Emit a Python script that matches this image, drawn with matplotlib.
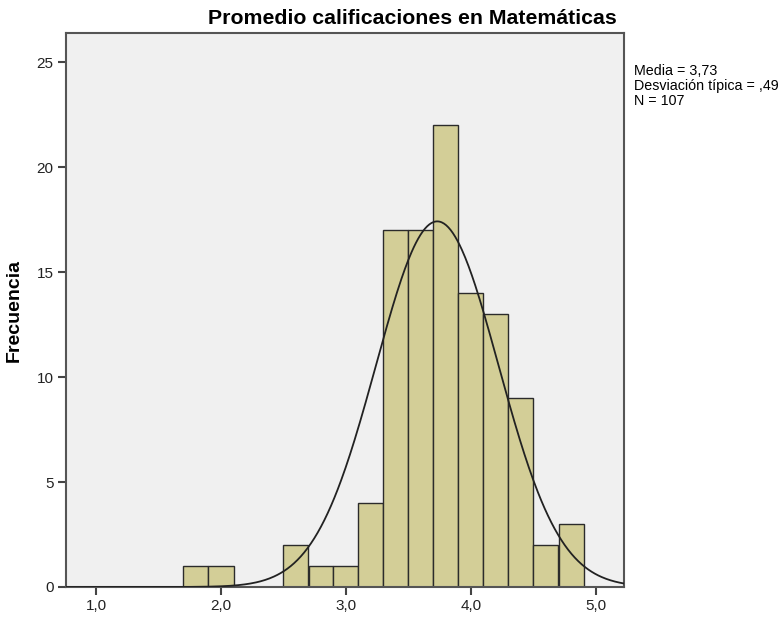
import numpy as np
import matplotlib
matplotlib.use("Agg")
import matplotlib.pyplot as plt

# Data
bin_edges = [1.7, 1.9, 2.1, 2.3, 2.5, 2.7, 2.9, 3.1, 3.3, 3.5, 3.7, 3.9, 4.1, 4.3, 4.5, 4.7, 4.9]
counts = [1, 1, 0, 0, 2, 1, 1, 4, 17, 17, 22, 14, 13, 9, 2, 3]
mean = 3.73
sd = 0.49
n = 107
xticks = [1.0, 2.0, 3.0, 4.0, 5.0]
xticklabels = ["1,0", "2,0", "3,0", "4,0", "5,0"]
yticks = [0, 5, 10, 15, 20, 25]

plt.rcParams['font.family'] = ['Liberation Sans', 'DejaVu Sans']

fig = plt.figure(figsize=(7.83, 6.17), dpi=100)
ax = fig.add_axes([66/783, 1-587/617, (624-66)/783, (587-33)/617])
ax.set_facecolor('#F0F0F0')

lefts = np.array(bin_edges[:-1])
widths = np.diff(bin_edges)
ax.bar(lefts, counts, width=widths, align='edge', color='#D3CE97',
       edgecolor='#2b2b2b', linewidth=1.0, zorder=2)

bw = bin_edges[1] - bin_edges[0]
xs = np.linspace(0.76, 5.224, 500)
ys = n * bw / (sd * np.sqrt(2*np.pi)) * np.exp(-0.5*((xs-mean)/sd)**2)
ax.plot(xs, ys, color='#222222', linewidth=1.3, zorder=3)

ax.set_xlim(0.76, 5.224)
ax.set_ylim(0, 26.4)
ax.set_xticks(xticks)
ax.set_xticklabels(xticklabels)
ax.set_yticks(yticks)
ax.tick_params(direction='out', length=6, width=1.5, color='#444444', labelsize=11,
               labelcolor='#222222', pad=3)
for s in ax.spines.values():
    s.set_color('#555555')
    s.set_linewidth(1.5)

ax.set_ylabel('Frecuencia', fontsize=14, fontweight='bold', labelpad=10)
fig.text(412/783, 1-18/617, 'Promedio calificaciones en Matemáticas', ha='center', va='center',
         fontsize=15.3, fontweight='bold')
fig.text(634/783, 1-64/617, 'Media = %s\nDesviación típica = ,%s\nN = %d' % ('3,73', '49', n),
         ha='left', va='top', fontsize=10.3, linespacing=1.1)

fig.savefig('out.png', dpi=100)
